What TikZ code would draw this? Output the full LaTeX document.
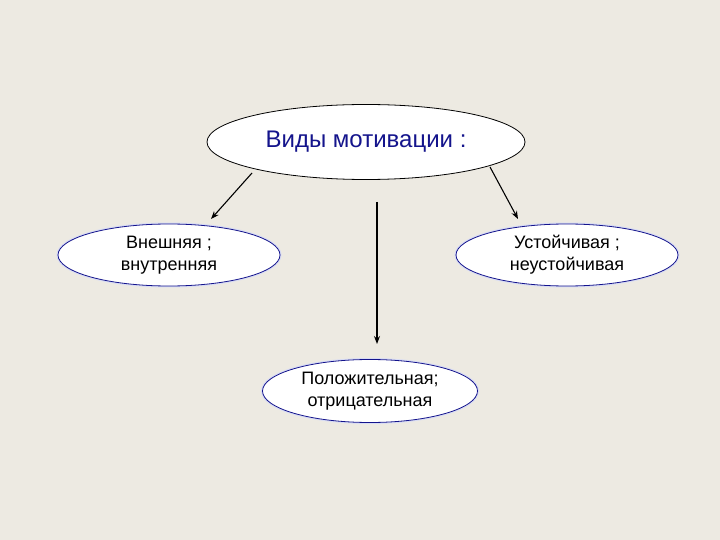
\documentclass[tikz,border=0pt]{standalone}
\usepackage{fontspec}
\setmainfont{Liberation Sans}
\usetikzlibrary{shapes.geometric,arrows.meta}
\definecolor{bgc}{HTML}{EDEAE2}
\definecolor{navy}{HTML}{14148C}
\definecolor{halo}{HTML}{D8DCF4}
\tikzset{
  topell/.style={ellipse,draw=black,line width=0.8pt,fill=white,minimum width=318bp,minimum height=75bp,inner sep=0pt,text=navy,font=\fontsize{24bp}{28bp}\selectfont},
  subell/.style={ellipse,draw=navy,line width=0.8pt,fill=white,inner sep=0pt,align=center,font=\fontsize{18bp}{22bp}\selectfont,
     preaction={draw=halo,line width=3pt}},
  arr/.style={-{Stealth[length=8bp,width=6bp]},line width=1.1pt,black}
}
\begin{document}
\begin{tikzpicture}[x=1bp,y=-1bp]
\fill[bgc] (0,0) rectangle (720,540);
\useasboundingbox (0,0) rectangle (720,540);
\node[topell] (top) at (366,142) {Виды мотивации :};
\node[subell,minimum width=222bp,minimum height=62bp] (left) at (169,255) {Внешняя ;\\внутренняя};
\node[subell,minimum width=222bp,minimum height=62bp] (right) at (567,255) {Устойчивая ;\\неустойчивая};
\node[subell,minimum width=215bp,minimum height=63bp] (bottom) at (370,391) {Положительная;\\отрицательная};
\coordinate (a1s) at (252,173); \coordinate (a1e) at (211,219);
\coordinate (a2s) at (490,167); \coordinate (a2e) at (518,219);
\coordinate (a3s) at (377,202); \coordinate (a3e) at (377,344);
\draw[arr] (a1s) -- (a1e);
\draw[arr] (a2s) -- (a2e);
\draw[arr] (a3s) -- (a3e);
\end{tikzpicture}
\end{document}
